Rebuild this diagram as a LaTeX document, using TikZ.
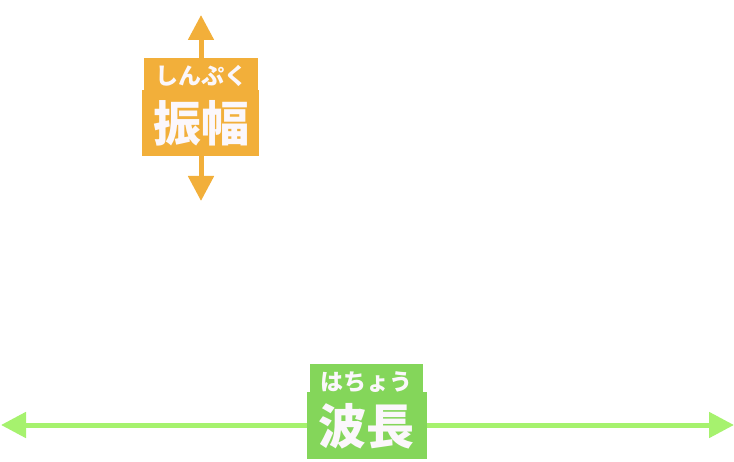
\documentclass[tikz,border=0pt]{standalone}
\usepackage{fontspec}
\newfontfamily\jp{Noto Sans CJK JP}
\usetikzlibrary{arrows.meta}
\definecolor{amp}{HTML}{F2AF3A}
\definecolor{wbox}{HTML}{84D65A}
\definecolor{wline}{HTML}{A6F26E}
\definecolor{txt}{HTML}{FBF7FB}
\tikzset{
  band/.style={fill=#1, draw=none, inner sep=0pt},
  ruby/.style={text=txt, font=\jp\bfseries\fontsize{23}{23}\selectfont, inner sep=0pt},
  kanji/.style={text=txt, font=\jp\bfseries\fontsize{48}{48}\selectfont, inner sep=0pt},
  arr/.style={draw=#1, line width=5pt, -{Triangle[width=25pt,length=25pt]}},
}
\begin{document}
\begin{tikzpicture}[x=1pt,y=-1pt]
\useasboundingbox (0,0) rectangle (734,462);
% amplitude
\coordinate (atop) at (201,15);
\coordinate (abot) at (201,201);
\coordinate (amid) at (201,107);
\draw[arr=amp] (amid) -- (atop);
\draw[arr=amp] (amid) -- (abot);
\fill[amp] (144,58) rectangle (258,91);
\fill[amp] (142,90) rectangle (259,156);
\node[ruby] (aruby) at (201,76) {しんぷく};
\node[kanji] (akanji) at (201,123) {振幅};
% wavelength
\coordinate (wl) at (1,425);
\coordinate (wr) at (734,425);
\coordinate (wmid) at (367,425);
\draw[arr=wline] (wmid) -- (wl);
\draw[arr=wline] (wmid) -- (wr);
\fill[wbox] (310,364) rectangle (423,393);
\fill[wbox] (307,392) rectangle (427,459);
\node[ruby] (wruby) at (366,382) {はちょう};
\node[kanji] (wkanji) at (366,426) {波長};
\end{tikzpicture}
\end{document}
